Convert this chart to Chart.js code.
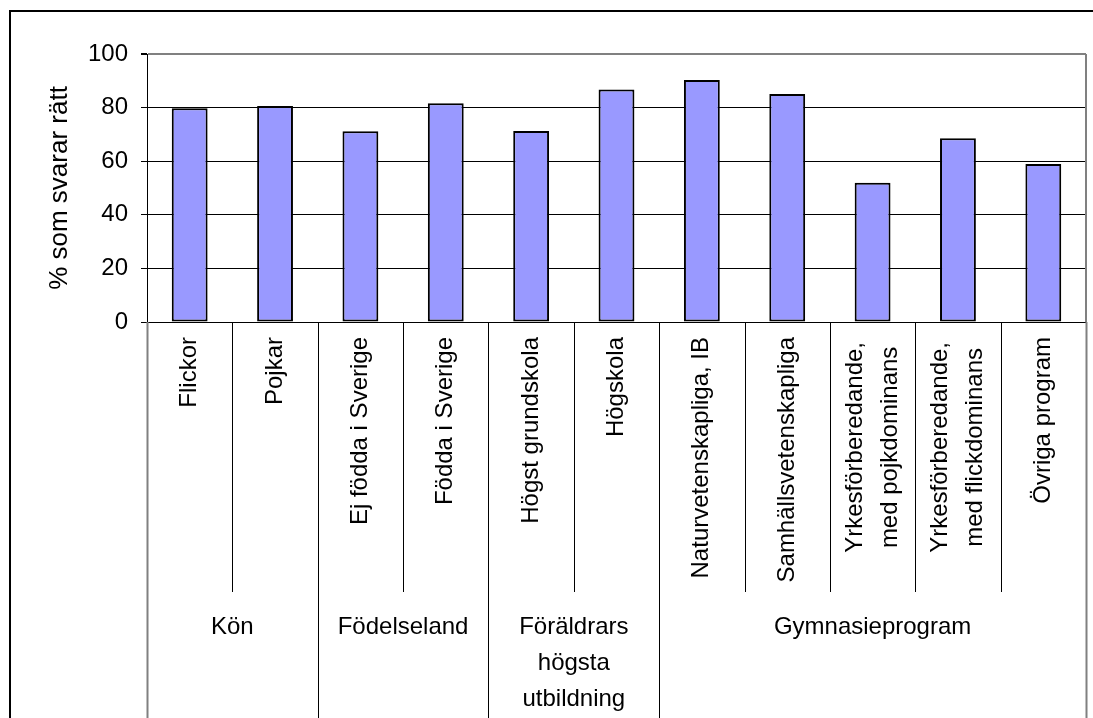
<!DOCTYPE html>
<html>
<head>
<meta charset="utf-8">
<script src="https://cdn.jsdelivr.net/npm/chart.js@4.4.0/dist/chart.umd.min.js"></script>
<style>
  body { margin: 0; background: #fff; }
  canvas { display: block; }
</style>
</head>
<body>
<canvas id="chart" width="1093" height="718"></canvas>
<script>
// kategorier och andel som svarar rätt
const categories = [
    'Flickor', 'Pojkar',
    'Ej födda i Sverige', 'Födda i Sverige',
    'Högst grundskola', 'Högskola',
    'Naturvetenskapliga, IB', 'Samhällsvetenskapliga',
    ['Yrkesförberedande,', 'med pojkdominans'],
    ['Yrkesförberedande,', 'med flickdominans'],
    'Övriga program'
];
const values = [79.8, 80.6, 71.2, 81.6, 71.3, 86.8, 90.3, 85.1, 52.0, 68.6, 59.0];
const groups = ['Kön', 'Födelseland', ['Föräldrars', 'högsta', 'utbildning'], 'Gymnasieprogram'];
const groupSizes = [2, 2, 2, 5];
const yTicks = [0, 20, 40, 60, 80, 100];
const yTitle = '% som svarar rätt';

const FONT = '"Liberation Sans", Arial, sans-serif';

var hierarchyPlugin = {
    id: 'hierarchy',
    beforeDraw: function(chart) {
        var ctx = chart.ctx;
        ctx.save();
        ctx.fillStyle = '#fff';
        ctx.fillRect(0, 0, chart.width, chart.height);
        // yttre ram
        ctx.strokeStyle = '#000';
        ctx.lineWidth = 2;
        ctx.beginPath();
        ctx.moveTo(10, chart.height);
        ctx.lineTo(10, 11);
        ctx.lineTo(chart.width, 11);
        ctx.stroke();
        ctx.restore();
    },
    afterDraw: function(chart) {
        var ctx = chart.ctx;
        var x = chart.scales.x;
        var area = chart.chartArea;
        var n = categories.length;
        function edge(i) {
            if (i === 0) return area.left;
            if (i === n) return area.right;
            return (x.getPixelForValue(i - 1) + x.getPixelForValue(i)) / 2;
        }
        var bounds = [0];
        groupSizes.forEach(function(s) { bounds.push(bounds[bounds.length - 1] + s); });

        ctx.save();
        // plotytans högra kant
        ctx.strokeStyle = '#808080';
        ctx.lineWidth = 2;
        ctx.beginPath();
        ctx.moveTo(area.right, area.top);
        ctx.lineTo(area.right, area.bottom);
        ctx.stroke();

        // avdelare
        for (var i = 0; i <= n; i++) {
            var px = Math.round(edge(i)) + 0.5;
            var isGroup = bounds.indexOf(i) >= 0;
            ctx.strokeStyle = (i === 0 || i === n) ? '#808080' : '#000';
            ctx.lineWidth = (i === 0 || i === n) ? 2 : 1;
            ctx.beginPath();
            ctx.moveTo(px, area.bottom);
            ctx.lineTo(px, isGroup ? chart.height : 592);
            ctx.stroke();
        }

        ctx.fillStyle = '#000';
        ctx.font = '24px ' + FONT;

        // kategorietiketter, roterade
        categories.forEach(function(label, i) {
            var lines = Array.isArray(label) ? label : [label];
            var cx = x.getPixelForValue(i);
            var maxW = 0;
            lines.forEach(function(l) { maxW = Math.max(maxW, ctx.measureText(l).width); });
            var top = lines.length > 1 ? 342 : 337;
            ctx.save();
            ctx.translate(cx, top + maxW / 2);
            ctx.rotate(-Math.PI / 2);
            ctx.textAlign = 'center';
            ctx.textBaseline = 'middle';
            lines.forEach(function(l, j) {
                ctx.fillText(l, 0, (j - (lines.length - 1) / 2) * 35);
            });
            ctx.restore();
        });

        // grupper
        ctx.textAlign = 'center';
        ctx.textBaseline = 'middle';
        groups.forEach(function(g, k) {
            var lines = Array.isArray(g) ? g : [g];
            var gx = (edge(bounds[k]) + edge(bounds[k + 1])) / 2;
            lines.forEach(function(l, j) {
                ctx.fillText(l, gx, 627 + j * 36);
            });
        });
        ctx.restore();
    }
};

var barChart = new Chart(document.getElementById('chart'), {
    type: 'bar',
    data: {
        labels: categories,
        datasets: [{
            data: values,
            backgroundColor: '#9999FF',
            borderColor: '#000',
            borderWidth: 2,
            borderSkipped: false,
            categoryPercentage: 1.0,
            barPercentage: 0.42
        }]
    },
    options: {
        responsive: false,
        animation: false,
        devicePixelRatio: 1,
        layout: { padding: { top: 54, right: 7, left: 0, bottom: 0 } },
        plugins: {
            legend: { display: false },
            tooltip: { enabled: false }
        },
        scales: {
            x: {
                grid: { display: false },
                ticks: { display: false },
                border: { display: true, color: '#000', width: 1 },
                afterFit: function(scale) { scale.height = 396; }
            },
            y: {
                min: 0,
                max: 100,
                afterBuildTicks: function(scale) {
                    scale.ticks = yTicks.map(function(v) { return { value: v }; });
                },
                grid: {
                    color: function(c) { return c.tick && c.tick.value === 100 ? '#808080' : '#000'; },
                    lineWidth: function(c) { return c.tick && c.tick.value === 100 ? 2 : 1; },
                    tickColor: '#000',
                    tickLength: 6
                },
                border: { display: true, color: '#000', width: 1 },
                ticks: {
                    color: '#000',
                    padding: 13,
                    font: { family: FONT, size: 24 }
                },
                title: {
                    display: true,
                    text: yTitle,
                    color: '#000',
                    font: { family: FONT, size: 26 },
                    padding: { top: 44, bottom: 0 }
                },
                afterFit: function(scale) { scale.width = 147; }
            }
        }
    },
    plugins: [hierarchyPlugin]
});
</script>
</body>
</html>
